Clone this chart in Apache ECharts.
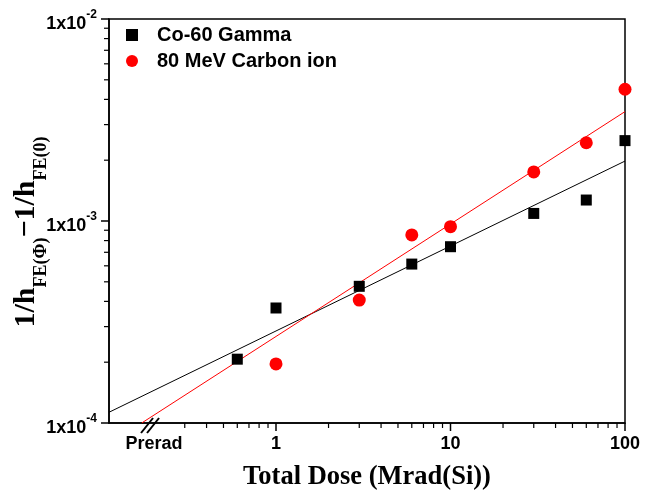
<!DOCTYPE html>
<html>
<head>
<meta charset="utf-8">
<script src="https://cdn.jsdelivr.net/npm/echarts@6/dist/echarts.min.js"></script>
<style>
  html, body { margin: 0; padding: 0; background: #fff; }
  #chart { width: 652px; height: 490px; }
</style>
</head>
<body>
<div id="chart"></div>
<script>
// Dose points (Mrad(Si)) and measured 1/hFE shift
const gammaDose   = [0.6, 1, 3, 6, 10, 30, 60, 100];
const gammaValues = [2.07e-4, 3.71e-4, 4.75e-4, 6.12e-4, 7.46e-4, 1.09e-3, 1.27e-3, 2.5e-3];
const carbonDose   = [1, 3, 6, 10, 30, 60, 100];
const carbonValues = [1.96e-4, 4.06e-4, 8.53e-4, 9.37e-4, 1.75e-3, 2.44e-3, 4.49e-3];

// Power-law fit lines, given by their end points
const gammaFit  = [[0.1104, 1.13e-4], [100, 1.98e-3]];
const carbonFit = [[0.17, 1.0e-4], [100, 3.48e-3]];

// Axis settings
const xMin = 0.1104, xMax = 100;
const yMin = 1e-4, yMax = 1e-2;
const xLabelValues = [0.2, 1, 10, 100];
const xMajorTicks = [1, 10, 100];
const xMinorTicks = [0.3, 0.4, 0.5, 0.6, 0.7, 0.8, 0.9, 2, 3, 4, 5, 6, 7, 8, 9, 20, 30, 40, 50, 60, 70, 80, 90];
const yMajorTicks = [1e-4, 1e-3, 1e-2];
const yMinorTicks = [2e-4, 3e-4, 4e-4, 5e-4, 6e-4, 7e-4, 8e-4, 9e-4, 2e-3, 3e-3, 4e-3, 5e-3, 6e-3, 7e-3, 8e-3, 9e-3];
const seriesNames = ['Co-60 Gamma', '80 MeV Carbon ion'];

const SANS = '"Liberation Sans", Arial, sans-serif';
const SERIF = '"Liberation Serif", "Times New Roman", serif';

const chart = echarts.init(document.getElementById('chart'), null, { renderer: 'canvas' });

function xLabel(v) {
  if (Math.abs(v - 0.2) < 1e-9) return 'Prerad';
  return String(Math.round(v));
}
function yLabel(v) {
  const e = Math.round(Math.log10(v));
  return '{b|1x10}{s|' + e + '}';
}

const axisLineStyle = { color: '#000', width: 1.5 };

chart.setOption({
  animation: false,
  backgroundColor: '#fff',
  grid: {
    left: 109, right: 27, top: 19, bottom: 67,
    containLabel: false, outerBoundsMode: 'none',
    show: true, borderColor: '#000', borderWidth: 1.5, backgroundColor: 'transparent'
  },
  legend: {
    orient: 'vertical',
    left: 126, top: 25, padding: 0,
    itemWidth: 12, itemHeight: 12, itemGap: 6,
    textStyle: { fontFamily: SANS, fontWeight: 'bold', fontSize: 20, color: '#000', padding: [0, 0, 0, 14] },
    data: [
      { name: seriesNames[0], icon: 'rect', itemStyle: { color: '#000', opacity: 1 } },
      { name: seriesNames[1], icon: 'circle', itemStyle: { color: '#ff0000', opacity: 1 } }
    ]
  },
  xAxis: {
    type: 'log', logBase: 10, min: xMin, max: xMax, position: 'bottom',
    axisLine: { show: true, onZero: false, lineStyle: axisLineStyle },
    axisTick: { show: false },
    axisLabel: { show: true, margin: 12, customValues: xLabelValues, formatter: xLabel,
                 fontFamily: SANS, fontWeight: 'bold', fontSize: 18, color: '#000' },
    splitLine: { show: false },
    name: 'Total Dose (Mrad(Si))', nameLocation: 'middle', nameGap: 41,
    nameTextStyle: { fontFamily: SERIF, fontWeight: 'bold', fontSize: 26.5, color: '#000' }
  },
  yAxis: {
    type: 'log', logBase: 10, min: yMin, max: yMax, position: 'left',
    axisLine: { show: true, onZero: false, lineStyle: axisLineStyle },
    axisTick: { show: false },
    axisLabel: {
      show: true, margin: 12, customValues: yMajorTicks, formatter: yLabel,
      rich: {
        b: { fontFamily: SANS, fontWeight: 'bold', fontSize: 18, color: '#000', lineHeight: 20, verticalAlign: 'top', padding: [6, 0, 0, 0] },
        s: { fontFamily: SANS, fontWeight: 'bold', fontSize: 12, color: '#000', lineHeight: 12, verticalAlign: 'top' }
      }
    },
    splitLine: { show: false }
  },
  series: [
    {
      name: seriesNames[0] + ' fit', type: 'line', data: gammaFit,
      symbol: 'none', clip: true, silent: true,
      lineStyle: { color: '#000', width: 1 }, z: 2
    },
    {
      name: seriesNames[1] + ' fit', type: 'line', data: carbonFit,
      symbol: 'none', clip: true, silent: true,
      lineStyle: { color: '#ff0000', width: 1 }, z: 2
    },
    {
      name: seriesNames[0], type: 'scatter',
      data: gammaDose.map((d, i) => [d, gammaValues[i]]),
      symbol: 'rect', symbolSize: 11, clip: false,
      itemStyle: { color: '#000', opacity: 1 }, z: 3
    },
    {
      name: seriesNames[1], type: 'scatter',
      data: carbonDose.map((d, i) => [d, carbonValues[i]]),
      symbol: 'circle', symbolSize: 13, clip: false,
      itemStyle: { color: '#ff0000', opacity: 1 }, z: 4
    }
  ]
});

// Outward tick marks, placed through the axes' own log scales
const toPx = (x, y) => chart.convertToPixel({ xAxisIndex: 0, yAxisIndex: 0 }, [x, y]);
const tickGraphics = [];
function addXTicks(values, len, w) {
  values.forEach(v => {
    const p = toPx(v, yMin);
    tickGraphics.push({ type: 'line', silent: true, z: 10,
      shape: { x1: p[0], y1: p[1], x2: p[0], y2: p[1] + len },
      style: { stroke: '#000', lineWidth: w } });
  });
}
function addYTicks(values, len, w) {
  values.forEach(v => {
    const p = toPx(xMin, v);
    tickGraphics.push({ type: 'line', silent: true, z: 10,
      shape: { x1: p[0], y1: p[1], x2: p[0] - len, y2: p[1] },
      style: { stroke: '#000', lineWidth: w } });
  });
}
addXTicks(xMajorTicks, 8, 1.5);
addXTicks(xMinorTicks, 5, 1.2);
addYTicks(yMajorTicks, 8, 1.5);
addYTicks(yMinorTicks, 5, 1.2);

// Axis break mark near the "Prerad" position and the rotated y-axis title
const breakPt = toPx(0.2, yMin);
const bx = breakPt[0] - 3, by = breakPt[1] + 2;
chart.setOption({
  graphic: tickGraphics.concat([
    { type: 'line', shape: { x1: bx - 10, y1: by + 8, x2: bx + 2, y2: by - 7 },
      style: { stroke: '#000', lineWidth: 2 }, z: 10 },
    { type: 'line', shape: { x1: bx - 4, y1: by + 8, x2: bx + 8, y2: by - 7 },
      style: { stroke: '#000', lineWidth: 2 }, z: 10 },
    {
      type: 'text', x: 26, y: 232, rotation: Math.PI / 2, z: 10,
      style: {
        text: '{m|1/h}{s|FE(Φ)}{m|−1/h}{s|FE(0)}',
        align: 'center', verticalAlign: 'middle',
        rich: {
          m: { fontFamily: SERIF, fontWeight: 'bold', fontSize: 30, fill: '#000', lineHeight: 30, verticalAlign: 'top' },
          s: { fontFamily: SERIF, fontWeight: 'bold', fontSize: 18, fill: '#000', lineHeight: 18, verticalAlign: 'top', padding: [21, 0, 0, 0] }
        }
      }
    }
  ])
});
</script>
</body>
</html>
